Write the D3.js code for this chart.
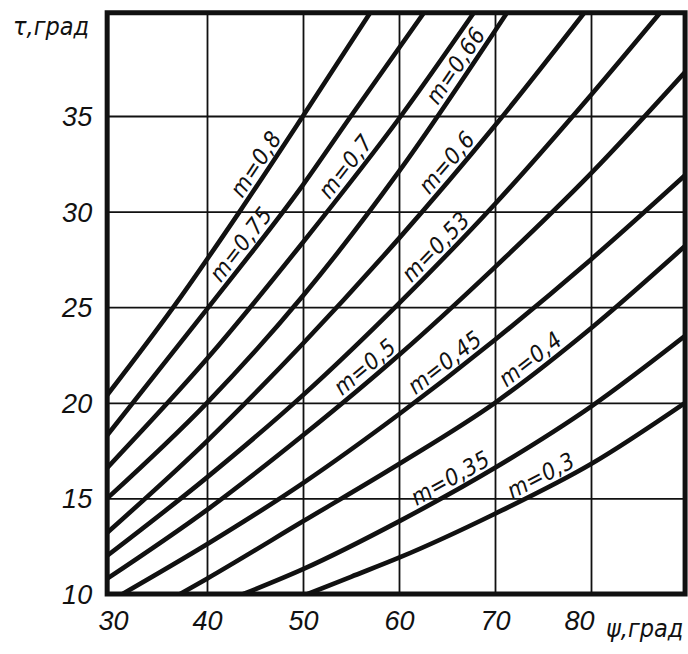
<!DOCTYPE html>
<html><head><meta charset="utf-8">
<script src="https://cdn.jsdelivr.net/npm/d3@7"></script>
<style>
html,body{margin:0;padding:0;background:#fff;}
svg{display:block;}
text{font-family:"Liberation Sans Narrow","DejaVu Sans Condensed",sans-serif;font-style:italic;fill:#111;}
</style></head><body>
<svg id="chart" width="688" height="654"></svg>
<script>
// ---- data ----
const mLabels = ["0,8","0,75","0,7","0,66","0,6","0,53","0,5","0,45","0,4","0,35","0,3"];
const curveM080 = [[29.6,20.4],[36.5,25],[43.4,30],[50,35],[57,40.4]];
const curveM075 = [[29.6,18.3],[40,24.9],[50,31.4],[55,35],[62.6,40.4]];
const curveM070 = [[29.6,16.6],[40,22.3],[50,28.4],[60.2,35],[67.8,40.4]];
const curveM066 = [[29.6,15.0],[40,20.0],[50,25.6],[60,32.1],[71.25,40.4]];
const curveM060 = [[29.6,13.2],[40,18.0],[50,23.1],[60,28.6],[70,34.5],[79.3,40.4]];
const curveM053 = [[29.6,12.0],[40,16.1],[50,20.4],[60,25.2],[70,30.4],[80,36.1],[87.2,40.4]];
const curveM050 = [[29.6,10.8],[40,14.4],[50,18.3],[60,22.5],[70,27.1],[80,32.0],[89.8,37.3]];
const curveM045 = [[31.2,10],[40,12.6],[50,15.8],[60,19.4],[70,23.3],[80,27.5],[89.8,31.9]];
const curveM040 = [[37.2,10],[40,10.8],[50,13.8],[60,16.8],[70,20.0],[80,23.9],[89.8,28.2]];
const curveM035 = [[43.8,10],[50,11.3],[60,13.8],[70,16.6],[80,19.8],[89.8,23.5]];
const curveM030 = [[50.5,10],[55,10.9],[60,11.9],[70,14.2],[80,16.8],[89.8,20.0]];
// where along each curve (ψ) its label sits
const labelPsi = [46.2,44.6,55.5,67.0,66.0,64.8,57.3,65.6,74.5,66.0,75.4];
const xTicks = [30,40,50,60,70,80];
const yTicks = [10,15,20,25,30,35];
const xGrid = [40,50,60,70,80];
const yGrid = [15,20,25,30,35];
const psiRange = [29.6,89.8];
const tauRange = [10,40.4];
const xTitle = "ψ,град";
const yTitle = "τ,град";

const curves = [curveM080,curveM075,curveM070,curveM066,curveM060,curveM053,curveM050,curveM045,curveM040,curveM035,curveM030];

// ---- drawing ----
const svg = d3.select("#chart");
const x = d3.scaleLinear().domain([30,80]).range([111,591]);
const y = d3.scaleLinear().domain([10,35]).range([594,116]);
const fx0 = x(psiRange[0]), fx1 = x(psiRange[1]);
const fy0 = y(tauRange[1]), fy1 = y(tauRange[0]);
const ink = "#111";

svg.append("rect").attr("width",688).attr("height",654).attr("fill","#fff");

svg.append("clipPath").attr("id","frameClip").append("rect")
  .attr("x",fx0).attr("y",fy0).attr("width",fx1-fx0).attr("height",fy1-fy0);

// grid through axes
const gx = svg.append("g").attr("transform",`translate(0,${fy1})`)
  .call(d3.axisBottom(x).tickValues(xGrid).tickSize(-(fy1-fy0)).tickFormat(""));
const gy = svg.append("g").attr("transform",`translate(${fx0},0)`)
  .call(d3.axisLeft(y).tickValues(yGrid).tickSize(-(fx1-fx0)).tickFormat(""));
[gx,gy].forEach(g=>{
  g.select(".domain").remove();
  g.selectAll("line").attr("stroke",ink).attr("stroke-width",1.8);
});

// curves
const line = d3.line().x(d=>x(d[0])).y(d=>y(d[1])).curve(d3.curveMonotoneX);
svg.append("g").attr("clip-path","url(#frameClip)")
  .selectAll("path").data(curves).join("path")
  .attr("d",line).attr("fill","none").attr("stroke",ink)
  .attr("stroke-width",4.6).attr("stroke-linecap","round");

// frame
svg.append("rect").attr("x",fx0).attr("y",fy0).attr("width",fx1-fx0).attr("height",fy1-fy0)
  .attr("fill","none").attr("stroke",ink).attr("stroke-width",5);

// tick labels
const ax = svg.append("g").attr("transform",`translate(0,${fy1})`)
  .call(d3.axisBottom(x).tickValues(xTicks).tickSize(0).tickPadding(17).tickFormat(d3.format("d")));
ax.select(".domain").remove();
ax.selectAll("text").attr("font-size",27).attr("fill",ink)
  .attr("dx",d=> d===80 ? -12 : (d===30 ? 2 : 0));
const ay = svg.append("g").attr("transform",`translate(${fx0},0)`)
  .call(d3.axisLeft(y).tickValues(yTicks).tickSize(0).tickPadding(15).tickFormat(d3.format("d")));
ay.select(".domain").remove();
ay.selectAll("text").attr("font-size",27).attr("fill",ink).attr("dy","0.35em");
svg.selectAll(".tick text").style("font-family",'"Liberation Sans Narrow",sans-serif').style("font-style","italic");

// titles
svg.append("text").attr("x",606).attr("y",fy1+43).attr("font-size",25).text(xTitle);
svg.append("text").attr("x",13).attr("y",35).attr("font-size",25).text(yTitle);

// curve labels along curves
function interp(pts, p){
  for(let i=0;i<pts.length-1;i++){
    if(p>=pts[i][0] && p<=pts[i+1][0]){
      const t=(p-pts[i][0])/(pts[i+1][0]-pts[i][0]);
      return pts[i][1]+t*(pts[i+1][1]-pts[i][1]);
    }
  }
  return pts[pts.length-1][1];
}
curves.forEach((pts,i)=>{
  const p = labelPsi[i];
  const px = x(p), py = y(interp(pts,p));
  const px2 = x(p+1), py2 = y(interp(pts,p+1));
  const ang = Math.atan2(py2-py, px2-px);
  const off = 13;
  const nx = Math.sin(ang)*off, ny = -Math.cos(ang)*off;
  svg.append("text")
    .attr("transform",`translate(${px+nx},${py+ny}) rotate(${ang*180/Math.PI})`)
    .attr("text-anchor","middle").attr("dy","0.35em")
    .attr("font-size",23).attr("letter-spacing",0.5)
    .text("m=" + mLabels[i]);
});
</script>
</body></html>
